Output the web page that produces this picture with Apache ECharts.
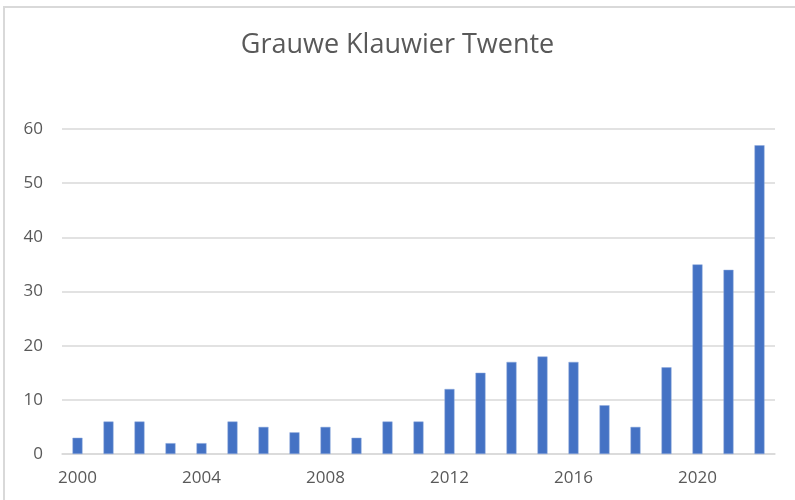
<!DOCTYPE html>
<html lang="nl">
<head>
  <meta charset="UTF-8">
  <title>Grauwe Klauwier Twente</title>
  <style>
    html, body { margin: 0; padding: 0; background: #fff; }
  </style>
</head>
<body>
<div id="main" style="width: 795px;height:500px;"></div>
<script src="https://cdn.jsdelivr.net/npm/echarts@6/dist/echarts.min.js"></script>
<script type="text/javascript">
  const years = ['2000', '2001', '2002', '2003', '2004', '2005', '2006', '2007', '2008', '2009', '2010', '2011',
    '2012', '2013', '2014', '2015', '2016', '2017', '2018', '2019', '2020', '2021', '2022']
  const counts = [3, 6, 6, 2, 2, 6, 5, 4, 5, 3, 6, 6, 12, 15, 17, 18, 17, 9, 5, 16, 35, 34, 57]
  const yTicks = [0, 10, 20, 30, 40, 50, 60]

  const Chart = echarts.init(document.getElementById('main'))

  const option = {
    animation: false,
    textStyle: { fontFamily: 'Open Sans' },
    title: {
      text: 'Grauwe Klauwier Twente',
      left: 'center',
      top: 27,
      textStyle: { fontSize: 27, fontWeight: 'normal', color: '#595959', fontFamily: 'Open Sans' }
    },
    graphic: [{
      type: 'rect',
      shape: { x: 4, y: 7, width: 820, height: 520 },
      style: { fill: 'none', stroke: '#d9d9d9', lineWidth: 2 },
      silent: true
    }],
    grid: { left: 62, right: 20, top: 129, bottom: 46 },
    xAxis: {
      type: 'category',
      data: years,
      axisLine: { lineStyle: { color: '#d9d9d9', width: 1.5 } },
      axisTick: { show: false },
      axisLabel: {
        interval: 3,
        color: '#595959',
        fontSize: 17,
        margin: 16
      }
    },
    yAxis: {
      type: 'value',
      min: yTicks[0],
      max: yTicks[yTicks.length - 1],
      interval: 10,
      axisLine: { show: false },
      axisTick: { show: false },
      splitLine: { lineStyle: { color: '#d9d9d9', width: 1.5 } },
      axisLabel: { color: '#595959', fontSize: 17, margin: 19 }
    },
    series: [{
      type: 'bar',
      data: counts,
      barWidth: 10,
      itemStyle: { color: '#4472C4', borderColor: '#8faadc', borderWidth: 0.5 }
    }]
  }

  Chart.setOption(option)
</script>
</body>
</html>
